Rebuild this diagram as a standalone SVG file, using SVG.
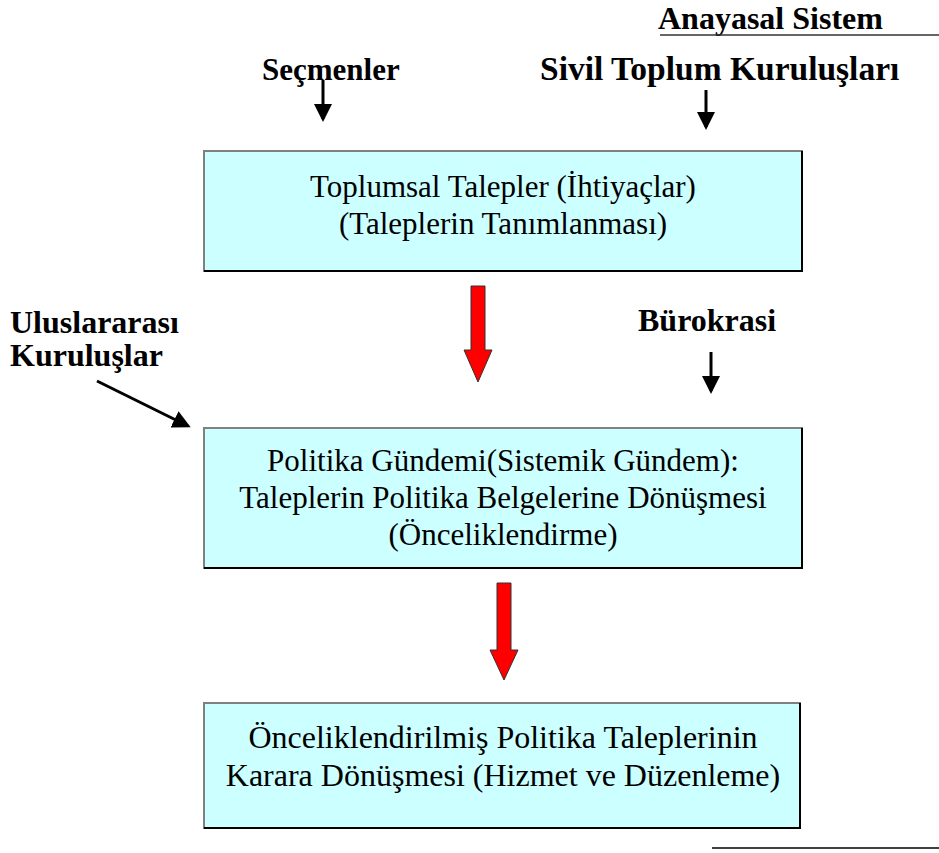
<svg xmlns="http://www.w3.org/2000/svg" width="939" height="853" viewBox="0 0 939 853">
<style>
.lbl{font-family:"Liberation Serif","Times New Roman",serif;font-weight:bold;font-size:32px;fill:#000}
.body{font-family:"Liberation Serif","Times New Roman",serif;font-size:31px;fill:#000;text-anchor:middle}
.b3{font-size:32px}
.box{fill:#CCFFFF;stroke:#808080;stroke-width:2}
.edge{stroke:#000;stroke-width:2;fill:none}
.conn{stroke:#000;stroke-width:3;fill:none}
.red{fill:#FF0000;stroke:#333;stroke-width:1}
</style>
<defs>
<marker id="ah" markerWidth="6" markerHeight="6" refX="5" refY="3" orient="auto" markerUnits="strokeWidth">
<path d="M0,0 L6,3 L0,6 z" fill="#000"/>
</marker>
</defs>
<rect width="939" height="853" fill="#fff"/>

<g id="anayasal">
<text class="lbl" x="658" y="29" style="font-size:32px">Anayasal Sistem</text>
<line x1="660" y1="35" x2="939" y2="35" stroke="#333" stroke-width="1.5"/>
</g>
<g id="secmenler"><text class="lbl" x="262" y="80" style="font-size:31px">Seçmenler</text></g>
<g id="stk"><text class="lbl" x="540" y="80" style="font-size:33.5px">Sivil Toplum Kuruluşları</text></g>
<g id="uluslararasi">
<text class="lbl" x="10" y="333">Uluslararası</text>
<text class="lbl" x="10" y="366">Kuruluşlar</text>
</g>
<g id="burokrasi"><text class="lbl" x="638" y="331">Bürokrasi</text></g>

<g id="box1">
<rect class="box" x="204" y="151" width="598" height="120"/>
<path class="edge" d="M802,151 V271 H204"/>
<text class="body" x="503" y="197">Toplumsal Talepler (İhtiyaçlar)</text>
<text class="body" x="503" y="234">(Taleplerin Tanımlanması)</text>
</g>
<g id="box2">
<rect class="box" x="204" y="428" width="598" height="140"/>
<path class="edge" d="M802,428 V568 H204"/>
<text class="body" x="503" y="471">Politika Gündemi(Sistemik Gündem):</text>
<text class="body" x="503" y="508">Taleplerin Politika Belgelerine Dönüşmesi</text>
<text class="body" x="503" y="545">(Önceliklendirme)</text>
</g>
<g id="box3">
<rect class="box" x="204" y="703" width="596" height="125"/>
<path class="edge" d="M800,703 V828 H204"/>
<text class="body b3" x="503" y="748">Önceliklendirilmiş Politika Taleplerinin</text>
<text class="body b3" x="503" y="786">Karara Dönüşmesi (Hizmet ve Düzenleme)</text>
</g>
<line x1="712" y1="848" x2="939" y2="848" stroke="#000" stroke-width="1.5"/>

<g id="connectors">
<line class="conn" x1="323" y1="80" x2="323" y2="119" marker-end="url(#ah)"/>
<line class="conn" x1="706" y1="90" x2="706" y2="127" marker-end="url(#ah)"/>
<line class="conn" x1="711" y1="352" x2="711" y2="391" marker-end="url(#ah)"/>
<line class="conn" x1="97" y1="381" x2="188" y2="426" marker-end="url(#ah)"/>
<path class="red" d="M471,286 H485 V350 H492 L478,382 L464,350 H471 Z"/>
<path class="red" d="M497,583 H511 V650 H518 L504,680 L490,650 H497 Z"/>
</g>
</svg>
